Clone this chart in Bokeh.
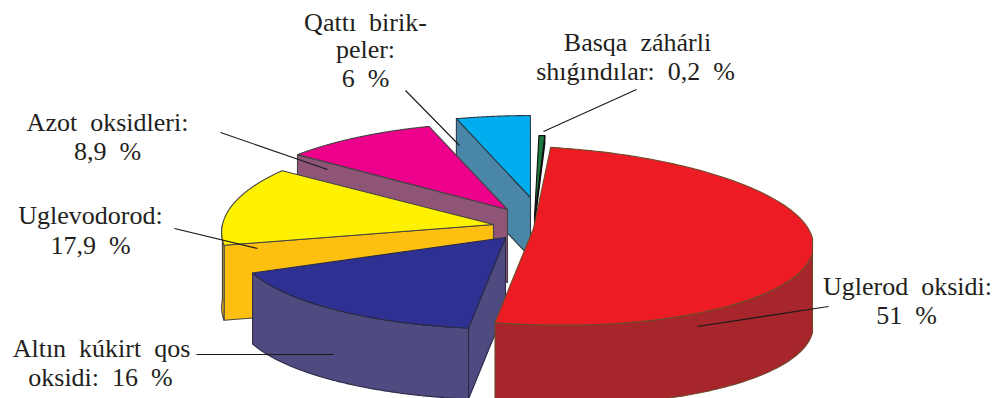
import numpy as np
from bokeh.plotting import figure
from bokeh.models import Range1d
from bokeh.core.properties import value
from bokeh.embed import file_html
from bokeh.resources import INLINE

# ---- data ----
categories = ["Uglerod oksidi", "Altın kúkirt qos oksidi", "Uglevodorod",
              "Azot oksidleri", "Qattı birikpeler", "Basqa záhárli shıǵındılar"]
shares = [51, 16, 17.9, 8.9, 6, 0.2]
GAP = "\u00a0 "
label_lines = [
    ["Uglerod oksidi:", "51 %"],
    ["Altın kúkirt qos", "oksidi: 16 %"],
    ["Uglevodorod:", "17,9 %"],
    ["Azot oksidleri:", "8,9 %"],
    ["Qattı birik-", "peler:", "6 %"],
    ["Basqa záhárli", "shıǵındılar: 0,2 %"],
]

# ---- style and layout of the drawing ----
top_colors = ["#ed1c24", "#2e3192", "#fff200", "#ec008c", "#00aeef", "#1c7a3e"]
wall_colors = ["#a6262b", "#4f4a7f", "#fdc010", "#8e5577", "#4a86a8", "#17351f"]
edge_colors = ["#6e4a2a", "#2a2a45", "#444444", "#444444", "#2b3b45", "#101010"]
centers = [(533, 228), (505, 237), (493, 224), (507, 209), (530, 197), (534, 217)]
radii = [279, 268, 271, 279, 279, 279]
depths = [80, 71, 75, 73, 60, 8]
b_scale = [1, 0.95, 1.1, 1.06, 1, 1]
skew = [10, 0, 0, 0, 0, 0]
# hand drawn slices: (end, start) corrections in degrees
nudges = [(1, 0.9), (0, 1), (5, -12), (0, 2.5), (4, -1), (2.4, 3)]
START = 85.3
B, TILT = 88.5, 0.08
RIGHT_CUT = 812
TEXT_DY = -9
label_xy = [
    [(907, 295), (906, 324)],
    [(101, 357), (100, 386)],
    [(90, 224), (90, 254)],
    [(107, 131), (107, 160)],
    [(365, 31), (365, 58), (365, 87)],
    [(637, 51), (635, 80)],
]
leaders = [
    ((828, 306), (697, 326)),
    ((196, 354), (333, 354)),
    ((174, 228), (257, 248)),
    ((220, 132), (327, 169)),
    ((405, 90), (459, 145)),
    ((636, 89), (543, 131)),
]
draw_order = [5, 4, 3, 2, 1, 0]
FONT = value("Liberation Serif")


def rim(i, deg):
    t = np.radians(deg)
    w = 1 + TILT * np.sin(t)
    cx, cy = centers[i]
    return (cx + radii[i] * np.cos(t) / w,
            cy - B * b_scale[i] * np.sin(t) / w + skew[i] * np.cos(t))


# slice angles come from the shares, clockwise from START
ends = START - np.cumsum(shares) * 3.6
starts = np.concatenate([[START], ends[:-1]])

p = figure(width=995, height=398, x_range=Range1d(0, 995), y_range=Range1d(398, 0),
           output_backend="svg", toolbar_location=None, min_border=0,
           background_fill_color="white", outline_line_color=None)
p.axis.visible = False
p.grid.visible = False


def poly(xs, ys, fill, edge, width=1.1):
    xs = np.minimum(np.asarray(xs, float), RIGHT_CUT)
    p.patch(list(xs), list(ys), fill_color=fill, line_color=edge, line_width=width,
            line_join="round")


for i in draw_order:
    a1 = starts[i] + nudges[i][1]
    a0 = ends[i] + nudges[i][0]
    cx, cy = centers[i]
    d = depths[i]
    # radial walls facing the viewer
    if np.cos(np.radians(a1)) < 0:
        rx, ry = rim(i, a1)
        poly([cx, rx, rx, cx], [cy, ry, ry + d, cy + d], wall_colors[i], edge_colors[i])
    if np.cos(np.radians(a0)) > 0:
        rx, ry = rim(i, a0)
        poly([cx, rx, rx, cx], [cy, ry, ry + d, cy + d], wall_colors[i], edge_colors[i])
    # outer wall: the part of the rim on the viewer's side
    ang = np.linspace(a1, a0, 200)
    front = ang[np.sin(np.radians(ang)) < 0]
    if len(front) > 1:
        x, y = rim(i, front)
        poly(np.r_[x, x[::-1]], np.r_[y, (y + d)[::-1]], wall_colors[i], edge_colors[i])
    # top
    x, y = rim(i, ang)
    poly(np.r_[cx, x], np.r_[cy, y], top_colors[i], edge_colors[i])

for (x0, y0), (x1, y1) in leaders:
    p.line([x0, x1], [y0, y1], line_color="#1a1a1a", line_width=1.1)

tx, ty, tt = [], [], []
for lines, xy in zip(label_lines, label_xy):
    for s, (x, y) in zip(lines, xy):
        tx.append(x); ty.append(y + TEXT_DY); tt.append(s.replace(" ", GAP))
p.text(x=tx, y=ty, text=tt, text_font=FONT, text_font_size="26px", text_color="#231f20",
       text_align="center", text_baseline="alphabetic")

open("out.html", "w").write(file_html(p, INLINE))
